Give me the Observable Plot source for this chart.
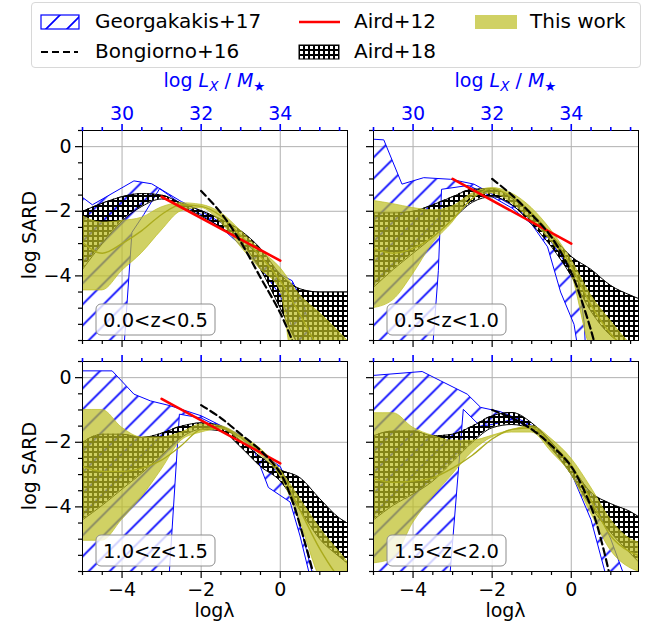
<!DOCTYPE html>
<html><head><meta charset="utf-8">
<script src="https://cdn.jsdelivr.net/npm/d3@7"></script>
<script src="https://cdn.jsdelivr.net/npm/@observablehq/plot@0.6"></script>
<style>
body{margin:0;background:#fff;font-family:"DejaVu Sans",sans-serif;}
#root{position:relative;width:656px;height:631px;overflow:hidden;background:#fff;}
.pn{position:absolute;}
#legend{position:absolute;left:31px;top:2px;width:608px;height:64px;border:1px solid #d8d8d8;border-radius:4px;background:#fff;}
.lt{position:absolute;font-size:20px;line-height:24px;color:#000;white-space:nowrap;}
.lp{position:absolute;}
</style></head><body>
<svg width="0" height="0" style="position:absolute">
<defs>
<pattern id="g17hatch" patternUnits="userSpaceOnUse" width="21" height="21">
<path d="M-5.25,5.25 L5.25,-5.25 M0,21 L21,0 M15.75,26.25 L26.25,15.75" stroke="#0000ff" stroke-width="1.7" fill="none"/>
</pattern>
<pattern id="a18hatch" patternUnits="userSpaceOnUse" width="5" height="5">
<rect x="0" y="0" width="5" height="2" fill="#000" shape-rendering="crispEdges"/>
<rect x="0" y="0" width="2" height="5" fill="#000" shape-rendering="crispEdges"/>
</pattern>
</defs></svg>
<div id="root">
<div id="legend">
<svg class="lp" style="left:8px;top:11px" width="40" height="16"><rect x="1" y="1" width="38" height="14" fill="url(#g17hatch)" stroke="#0000ff" stroke-width="1.2"/></svg>
<div class="lt" style="left:63px;top:6px">Georgakakis+17</div>
<svg class="lp" style="left:266px;top:11px" width="44" height="16"><line x1="1" y1="8" x2="42" y2="8" stroke="red" stroke-width="2.5"/></svg>
<div class="lt" style="left:322px;top:6px">Aird+12</div>
<svg class="lp" style="left:443px;top:11px" width="44" height="16"><rect x="0" y="1" width="42" height="14" fill="#bcbd22" fill-opacity="0.7"/></svg>
<div class="lt" style="left:498px;top:6px">This work</div>
<svg class="lp" style="left:8px;top:41px" width="44" height="16"><line x1="1" y1="8" x2="38" y2="8" stroke="#000" stroke-width="2.2" stroke-dasharray="7,4"/></svg>
<div class="lt" style="left:63px;top:36px">Bongiorno+16</div>
<svg class="lp" style="left:266px;top:41px" width="44" height="16"><rect x="1" y="1" width="40" height="14" fill="url(#a18hatch)" stroke="#000" stroke-width="1"/></svg>
<div class="lt" style="left:322px;top:36px">Aird+18</div>
</div>
</div>
<script>
// ---------- data ----------
const LAM = [-5,-4.5,-4,-3.5,-3,-2.5,-2,-1.5,-1,-0.5,0,0.5,1,1.5,1.7];
const zLabels = ["0.0<z<0.5","0.5<z<1.0","1.0<z<1.5","1.5<z<2.0"];
const majorX = [-4,-2,0];
const majorY = [0,-2,-4];
const lxOffset = 34; // log Lx/M* = log lambda + 34

// Georgakakis+17 (upper / lower boundaries)
const g17Up_1 = [[-5,-1.57],[-4.75,-1.8],[-3.7,-1.06],[-3.25,-1.15],[-2.5,-1.7],[-2,-2.0],[-1.5,-2.35],[-1,-2.85],[-0.5,-3.4],[0,-3.95],[0.3,-4.15],[0.6,-4.9],[0.9,-6.5]];
const g17Lo_1 = [[-5,-10],[-3.97,-6.5],[-3.95,-6.2],[-3.75,-2.65],[-3.45,-2.1],[-3.2,-1.6],[-3.05,-1.3],[-2.5,-1.78],[-2,-2.1],[-1.5,-2.5],[-1,-3.05],[-0.5,-3.75],[0,-4.6],[0.3,-5.6],[0.5,-6.5]];
const g17Up_2 = [[-5,0.23],[-4.74,0.21],[-4.28,-1.16],[-3.73,-0.96],[-3.05,-1.01],[-2.46,-1.16],[-2,-1.47],[-1.45,-1.85],[-0.78,-2.5],[-0.3,-3.3],[0,-3.9],[0.24,-4.6],[0.33,-5.5],[0.37,-6.5]];
const g17Lo_2 = [[-5,-10],[-3.52,-6.5],[-3.49,-6.0],[-3.36,-3.84],[-3.28,-1.32],[-2.6,-1.2],[-2,-1.55],[-1.5,-1.9],[-1,-2.4],[-0.6,-3.1],[-0.27,-4.5],[0.07,-5.5],[0.2,-6.5]];
const g17Up_3 = [[-5,0.21],[-4.25,0.21],[-3.7,-0.51],[-3.28,-0.72],[-2.78,-0.87],[-2,-1.18],[-1.08,-1.74],[-0.66,-2.2],[-0.3,-2.5],[0,-2.75],[0.3,-3.6],[0.55,-4.8],[0.8,-6.0],[0.85,-6.5]];
const g17Lo_3 = [[-5,-10],[-2.82,-6.5],[-2.8,-5.95],[-2.55,-1.13],[-2,-1.25],[-1.5,-1.55],[-1,-1.85],[-0.66,-2.25],[-0.3,-3.4],[0.25,-3.85],[0.5,-4.9],[0.72,-6.0],[0.75,-6.5]];
const g17Up_4 = [[-5,0.07],[-3.77,0.19],[-3.3,-0.1],[-2.63,-0.51],[-2.29,-0.92],[-1.8,-1.05],[-1.2,-1.35],[-0.8,-1.6],[-0.4,-2.15],[0,-2.75],[0.5,-3.6],[1.0,-5.0],[1.3,-6.0],[1.4,-6.5]];
const g17Lo_4 = [[-5,-10],[-3.1,-6.5],[-3.06,-6.0],[-2.73,-0.98],[-2.3,-1.5],[-2,-1.45],[-1.5,-1.3],[-1,-1.55],[-0.5,-2.15],[0,-2.95],[0.5,-4.4],[0.85,-6.0],[0.9,-6.5]];

// Aird+18 band (on LAM)
const a18Hi_1 = [-2.0,-1.75,-1.55,-1.45,-1.5,-1.75,-1.98,-2.25,-2.6,-3.15,-3.95,-4.4,-4.5,-4.5,-4.5];
const a18Lo_1 = [-3.8,-3.0,-2.3,-1.85,-1.62,-1.85,-2.15,-2.5,-2.95,-3.8,-5.0,-6.2,-6.6,-6.6,-6.6];
const a18Hi_2 = [-2.05,-2.05,-2.0,-1.8,-1.55,-1.32,-1.3,-1.6,-2.1,-2.75,-3.4,-3.8,-4.3,-4.6,-4.7];
const a18Lo_2 = [-4.35,-3.8,-3.3,-2.8,-2.25,-1.72,-1.55,-1.8,-2.4,-3.1,-4.0,-5.1,-5.85,-6.2,-6.3];
const a18Hi_3 = [-2.0,-1.75,-1.75,-1.85,-1.72,-1.5,-1.4,-1.5,-1.95,-2.45,-2.85,-3.1,-3.75,-4.35,-4.5];
const a18Lo_3 = [-4.4,-3.95,-3.45,-2.95,-2.4,-1.85,-1.6,-1.65,-2.15,-2.75,-3.2,-4.1,-5.0,-5.55,-5.75];
const a18Hi_4 = [-1.8,-1.65,-1.65,-1.8,-1.75,-1.5,-1.18,-1.08,-1.4,-2.0,-2.75,-3.55,-3.9,-4.15,-4.3];
const a18Lo_4 = [-4.4,-3.95,-3.6,-3.2,-2.6,-2.0,-1.55,-1.45,-1.6,-2.2,-3.0,-4.0,-4.8,-5.45,-5.7];

// This work band and central curve (on LAM)
const twHi_1 = [-2.15,-2.35,-2.3,-2.2,-1.88,-1.75,-1.8,-2.05,-2.6,-3.2,-3.75,-4.6,-5.15,-5.75,-6.0];
const twLo_1 = [-4.45,-4.45,-3.85,-3.3,-2.6,-2.0,-1.9,-2.35,-3.1,-3.8,-4.45,-8,-8,-8,-8];
const twMid_1 = [-2.96,-3.3,-3.0,-2.6,-2.1,-1.8,-1.85,-2.15,-2.75,-3.4,-4.15,-5.2,-6.3,-7,-7];
const twHi_2 = [-1.68,-1.78,-1.9,-1.97,-1.85,-1.45,-1.28,-1.45,-1.9,-2.6,-3.5,-4.6,-5.4,-6.1,-6.3];
const twLo_2 = [-5.0,-4.75,-3.95,-3.0,-2.35,-1.55,-1.45,-1.75,-2.3,-2.95,-3.9,-6.3,-7,-7,-7];
const twMid_2 = [-3.15,-3.3,-3.15,-2.8,-2.25,-1.6,-1.3,-1.55,-2.05,-2.75,-3.7,-4.9,-5.8,-6.4,-6.6];
const twHi_3 = [-1.0,-1.0,-1.55,-1.85,-1.85,-1.7,-1.45,-1.5,-1.8,-2.2,-2.85,-3.75,-4.65,-5.4,-5.7];
const twLo_3 = [-5.05,-5.05,-4.4,-3.7,-2.85,-1.95,-1.7,-1.6,-1.95,-2.4,-3.05,-4.45,-6.2,-7,-7];
const twMid_3 = [-2.75,-2.9,-2.9,-2.8,-2.55,-2.1,-1.6,-1.55,-1.85,-2.3,-2.9,-4.1,-5.3,-6.2,-6.4];
const twHi_4 = [-1.1,-1.1,-1.55,-1.8,-1.95,-1.95,-1.8,-1.62,-1.5,-1.9,-2.5,-3.4,-4.4,-5.0,-5.1];
const twLo_4 = [-5.75,-5.6,-4.5,-3.7,-3.0,-2.3,-1.85,-1.7,-1.7,-2.3,-3.0,-4.2,-5.35,-5.9,-6.0];
const twMid_4 = [-3.13,-3.24,-3.2,-3.1,-2.8,-2.4,-1.9,-1.6,-1.55,-2.05,-2.7,-3.8,-4.9,-5.4,-5.5];

// Aird+12 (red)
const a12_1 = [[-3,-1.55],[0,-3.53]];
const a12_2 = [[-3,-1.0],[0,-3.0]];
const a12_3 = [[-3,-0.66],[0,-2.65]];
const a12_4 = [];

// Bongiorno+16 (dashed)
const b16_1 = [[-2,-1.37],[-1.5,-2.05],[-1,-2.95],[-0.5,-4.05],[0,-5.15],[0.3,-6.0],[0.35,-6.2]];
const b16_2 = [[-2,-1.0],[-1.5,-1.5],[-1,-2.1],[-0.5,-2.8],[0,-3.9],[0.3,-4.9],[0.57,-6.0],[0.6,-6.2]];
const b16_3 = [[-2,-0.85],[-1.5,-1.25],[-1,-1.75],[-0.5,-2.25],[0,-2.95],[0.3,-3.8],[0.6,-5.0],[0.82,-6.0],[0.85,-6.2]];
const b16_4 = [[-2,-1.0],[-1.5,-1.25],[-1,-1.6],[-0.5,-2.1],[0,-2.75],[0.5,-4.0],[0.75,-5.0],[0.95,-6.0],[1.0,-6.3]];

// ---------- layout ----------
const IW = 265, IH = 210, ML = 60, MR = 15, MT = 60, MB = 60;
const panels = [
  {left: 82,  top: 130, g17u: g17Up_1, g17l: g17Lo_1, a18hi: a18Hi_1, a18lo: a18Lo_1, twhi: twHi_1, twlo: twLo_1, twmid: twMid_1, a12: a12_1, b16: b16_1, label: zLabels[0], leftCol: true,  topRow: true},
  {left: 373, top: 130, g17u: g17Up_2, g17l: g17Lo_2, a18hi: a18Hi_2, a18lo: a18Lo_2, twhi: twHi_2, twlo: twLo_2, twmid: twMid_2, a12: a12_2, b16: b16_2, label: zLabels[1], leftCol: false, topRow: true},
  {left: 82,  top: 361, g17u: g17Up_3, g17l: g17Lo_3, a18hi: a18Hi_3, a18lo: a18Lo_3, twhi: twHi_3, twlo: twLo_3, twmid: twMid_3, a12: a12_3, b16: b16_3, label: zLabels[2], leftCol: true,  topRow: false},
  {left: 373, top: 361, g17u: g17Up_4, g17l: g17Lo_4, a18hi: a18Hi_4, a18lo: a18Lo_4, twhi: twHi_4, twlo: twLo_4, twmid: twMid_4, a12: a12_4, b16: b16_4, label: zLabels[3], leftCol: false, topRow: false}
];

const minusFmt = d => (d < 0 ? "\u2212" + Math.abs(d) : String(d));
const minorX = d3.range(-5, 1.71, 0.5).filter(v => !majorX.includes(v));
const minorY = d3.range(-6, 0.51, 0.5).filter(v => !majorY.includes(v));
const px = d => d[0], py = d => d[1];
const OLIVE = "#bcbd22";

const root = document.getElementById("root");

panels.forEach(p => {
  const a18 = LAM.map((x, i) => ({x, lo: p.a18lo[i], hi: p.a18hi[i]}));
  const tw = LAM.map((x, i) => ({x, lo: p.twlo[i], hi: p.twhi[i], mid: p.twmid[i]}));
  const poly = [...p.g17u, ...p.g17l.slice().reverse()];
  const marks = [
    Plot.gridX(majorX, {stroke: "#b0b0b0", strokeOpacity: 1, strokeWidth: 1}),
    Plot.gridY(majorY, {stroke: "#b0b0b0", strokeOpacity: 1, strokeWidth: 1}),
    Plot.line(poly, {x: px, y: py, fill: "url(#g17hatch)", stroke: "none", curve: "linear-closed", clip: true}),
    Plot.line(p.g17u, {x: px, y: py, stroke: "#0000ff", strokeWidth: 1, clip: true}),
    Plot.line(p.g17l, {x: px, y: py, stroke: "#0000ff", strokeWidth: 1, clip: true}),
    Plot.areaY(a18, {x: "x", y1: "lo", y2: "hi", fill: "url(#a18hatch)", curve: "monotone-x", clip: true}),
    Plot.lineY(a18, {x: "x", y: "hi", stroke: "#000", strokeWidth: 1, curve: "monotone-x", clip: true}),
    Plot.lineY(a18, {x: "x", y: "lo", stroke: "#000", strokeWidth: 1, curve: "monotone-x", clip: true}),
    Plot.areaY(tw, {x: "x", y1: "lo", y2: "hi", fill: OLIVE, fillOpacity: 0.7, stroke: OLIVE, strokeOpacity: 0.7, strokeWidth: 1, curve: "monotone-x", clip: true}),
    Plot.lineY(tw, {x: "x", y: "mid", stroke: "#aaab1e", strokeWidth: 1.4, curve: "monotone-x", clip: true}),
    Plot.line(p.a12, {x: px, y: py, stroke: "red", strokeWidth: 2.6, clip: true}),
    Plot.line(p.b16, {x: px, y: py, stroke: "#000", strokeWidth: 2.2, strokeDasharray: "7,4", curve: "catmull-rom", clip: true}),
    Plot.frame({stroke: "#000", strokeWidth: 1}),
    Plot.axisY(majorY, {tickSize: 7, tickPadding: 4, strokeWidth: 1.2, tickFormat: p.leftCol ? minusFmt : () => "", label: null}),
    Plot.axisY(minorY, {tickSize: 4, strokeWidth: 1.2, tickFormat: () => "", label: null}),
    Plot.axisX(majorX, {anchor: "bottom", tickSize: 7, tickPadding: 4, strokeWidth: 1.2, tickFormat: p.topRow ? () => "" : minusFmt, label: null}),
    Plot.axisX(minorX, {anchor: "bottom", tickSize: 4, strokeWidth: 1.2, tickFormat: () => "", label: null}),
    Plot.axisX(majorX, {anchor: "top", tickSize: 7, tickPadding: 4, strokeWidth: 1.6, color: "#0000ff", tickFormat: p.topRow ? d => String(d + lxOffset) : () => "", label: null}),
    Plot.axisX(minorX, {anchor: "top", tickSize: 4, strokeWidth: 1.6, color: "#0000ff", tickFormat: () => "", label: null})
  ];
  const chart = Plot.plot({
    width: ML + IW + MR, height: MT + IH + MB,
    marginLeft: ML, marginRight: MR, marginTop: MT, marginBottom: MB,
    x: {domain: [-5, 1.7]},
    y: {domain: [-6, 0.5]},
    style: {background: "transparent", fontSize: "19px", fontFamily: "DejaVu Sans", overflow: "visible", color: "#000"},
    marks
  });
  chart.classList.add("pn");
  chart.style.left = (p.left - ML) + "px";
  chart.style.top = (p.top - MT) + "px";
  chart.style.position = "absolute";
  root.appendChild(chart);
  const svg = d3.select(chart);
  const ox = p.left - ML, oy = p.top - MT;

  // redshift label box
  const bx = ML + 14, bw = 119, bh = 31, by = MT + IH - 5 - bh;
  svg.append("rect").attr("x", bx).attr("y", by).attr("width", bw).attr("height", bh)
    .attr("rx", 5).attr("fill", "#fff").attr("fill-opacity", 0.8).attr("stroke", "#8c8c8c").attr("stroke-width", 1);
  svg.append("text").attr("x", bx + bw / 2).attr("y", by + bh / 2).attr("dy", "0.36em")
    .attr("text-anchor", "middle").style("font-size", "19.5px").attr("fill", "#000").text(p.label);

  if (p.topRow) {
    const t = svg.append("text").attr("x", ML + IW / 2).attr("y", 87 - oy)
      .attr("text-anchor", "middle").attr("fill", "#0000ff").style("font-size", "19px");
    t.append("tspan").text("log ");
    t.append("tspan").attr("font-style", "italic").text("L");
    t.append("tspan").attr("font-style", "italic").attr("font-size", "13.5px").attr("dy", 4).text("X");
    t.append("tspan").attr("dy", -4).text(" / ");
    t.append("tspan").attr("font-style", "italic").text("M");
    t.append("tspan").attr("font-size", "13.5px").attr("dy", 4).text("\u2605");
  }
  if (p.leftCol) {
    svg.append("text").attr("transform", `translate(${36 - ox},${MT + IH / 2}) rotate(-90)`)
      .attr("text-anchor", "middle").style("font-size", "19px").attr("fill", "#000").text("log SARD");
  }
  if (!p.topRow) {
    svg.append("text").attr("x", ML + IW / 2).attr("y", 617 - oy)
      .attr("text-anchor", "middle").style("font-size", "19px").attr("fill", "#000").text("log\u03bb");
  }
});
</script>
</body></html>
